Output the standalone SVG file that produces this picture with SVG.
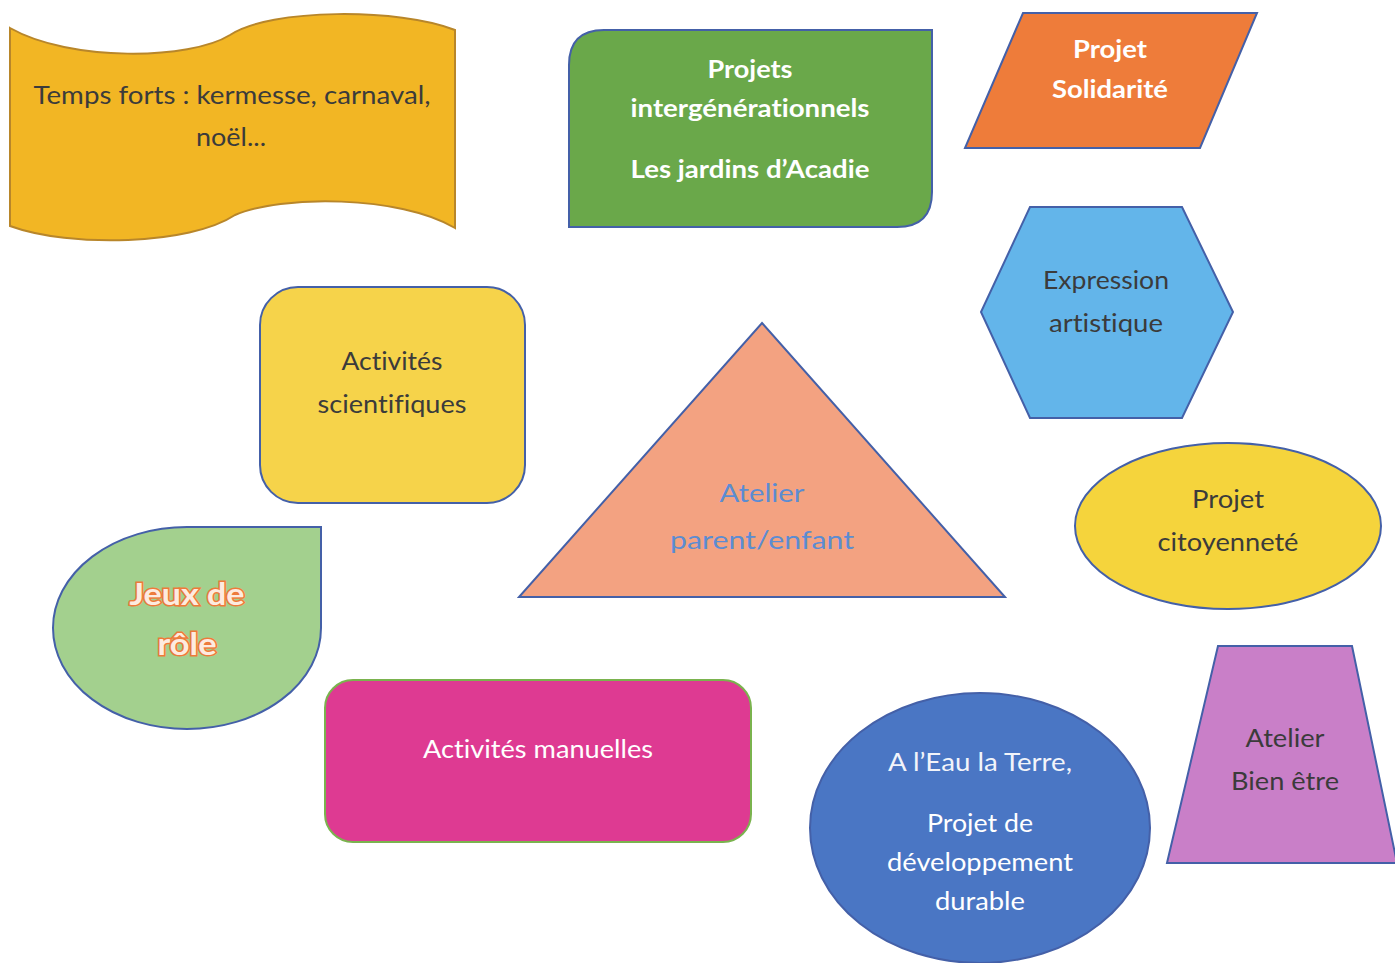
<svg xmlns="http://www.w3.org/2000/svg" width="1395" height="963" viewBox="0 0 1395 963">
<style>
text{font-family:Lato,"Open Sans","Liberation Sans",sans-serif;font-size:25px;text-anchor:middle;font-variant-ligatures:none;font-feature-settings:"liga" 0,"clig" 0}
.dk{fill:#3b3b3b}
.wh{fill:#ffffff}
.b{font-weight:bold}
.sb{stroke:#4460a8;stroke-width:2}
.jr{font-weight:bold;font-size:31px;fill:#fdebe0;stroke:#ee7a3a;stroke-width:3;paint-order:stroke}
</style>
<rect width="1395" height="963" fill="#ffffff"/>
<g id="temps-forts">
<path d="M10,28 C70,62 190,60 230,35 C270,8 400,8 455,30 L455,228 C400,195 280,195 235,215 C190,245 70,248 10,226 Z" fill="#f2b624" stroke="#b8862a" stroke-width="2"/>
<text class="dk" x="232" y="104" textLength="397" lengthAdjust="spacingAndGlyphs">Temps forts : kermesse, carnaval,</text>
<text class="dk" x="231" y="146" textLength="70" lengthAdjust="spacingAndGlyphs">noël...</text>
</g>
<g id="projets-intergenerationnels">
<path d="M604,30 L932,30 L932,192 Q932,227 897,227 L569,227 L569,65 Q569,30 604,30 Z" fill="#6aa84a" class="sb"/>
<text class="wh b" x="750" y="78" textLength="85" lengthAdjust="spacingAndGlyphs">Projets</text>
<text class="wh b" x="750" y="117" textLength="239" lengthAdjust="spacingAndGlyphs">intergénérationnels</text>
<text class="wh b" x="750" y="178" textLength="239" lengthAdjust="spacingAndGlyphs">Les jardins d’Acadie</text>
</g>
<g id="projet-solidarite">
<polygon points="1023,13 1257,13 1200,148 965,148" fill="#ee7c3a" class="sb"/>
<text class="wh b" x="1110" y="58" textLength="74" lengthAdjust="spacingAndGlyphs">Projet</text>
<text class="wh b" x="1110" y="98" textLength="116" lengthAdjust="spacingAndGlyphs">Solidarité</text>
</g>
<g id="expression-artistique">
<polygon points="1030,207 1182,207 1233,312 1182,418 1030,418 981,312" fill="#63b5ea" class="sb"/>
<text class="dk" x="1106" y="289" textLength="126" lengthAdjust="spacingAndGlyphs">Expression</text>
<text class="dk" x="1106" y="332" textLength="114" lengthAdjust="spacingAndGlyphs">artistique</text>
</g>
<g id="activites-scientifiques">
<rect x="260" y="287" width="265" height="216" rx="38" fill="#f6d34a" class="sb"/>
<text class="dk" x="392" y="370" textLength="101" lengthAdjust="spacingAndGlyphs">Activités</text>
<text class="dk" x="392" y="413" textLength="149" lengthAdjust="spacingAndGlyphs">scientifiques</text>
</g>
<g id="atelier-parent-enfant">
<polygon points="762,323 1005,597 519,597" fill="#f3a281" class="sb"/>
<text x="762" y="502" fill="#5b8cd2" textLength="85" lengthAdjust="spacingAndGlyphs">Atelier</text>
<text x="762" y="549" fill="#5b8cd2" textLength="184" lengthAdjust="spacingAndGlyphs">parent/enfant</text>
</g>
<g id="projet-citoyennete">
<ellipse cx="1228" cy="526" rx="153" ry="83" fill="#f5d43c" class="sb"/>
<text class="dk" x="1228" y="508" textLength="72" lengthAdjust="spacingAndGlyphs">Projet</text>
<text class="dk" x="1228" y="551" textLength="141" lengthAdjust="spacingAndGlyphs">citoyenneté</text>
</g>
<g id="jeux-de-role">
<path d="M187,527 L321,527 L321,628 A134,101 0 1 1 187,527 Z" fill="#a3d08e" class="sb"/>
<text class="jr" x="187" y="605" textLength="115" lengthAdjust="spacingAndGlyphs">Jeux de</text>
<text class="jr" x="187" y="655" textLength="59" lengthAdjust="spacingAndGlyphs">rôle</text>
</g>
<g id="activites-manuelles">
<rect x="325" y="680" width="426" height="162" rx="28" fill="#de3a92" stroke="#7ab34e" stroke-width="2"/>
<text class="wh" x="538" y="758" textLength="230" lengthAdjust="spacingAndGlyphs">Activités manuelles</text>
</g>
<g id="eau-terre">
<ellipse cx="980" cy="828" rx="170" ry="135" fill="#4a76c4" class="sb"/>
<text x="980" y="771" fill="#f2f4fa" textLength="184" lengthAdjust="spacingAndGlyphs">A l’Eau la Terre,</text>
<text class="wh" x="980" y="832" textLength="106" lengthAdjust="spacingAndGlyphs">Projet de</text>
<text class="wh" x="980" y="871" textLength="186" lengthAdjust="spacingAndGlyphs">développement</text>
<text class="wh" x="980" y="910" textLength="90" lengthAdjust="spacingAndGlyphs">durable</text>
</g>
<g id="atelier-bien-etre">
<polygon points="1218,646 1352,646 1397,863 1167,863" fill="#c97fc8" class="sb"/>
<text class="dk" x="1285" y="747" textLength="79" lengthAdjust="spacingAndGlyphs">Atelier</text>
<text class="dk" x="1285" y="790" textLength="108" lengthAdjust="spacingAndGlyphs">Bien être</text>
</g>
<g id="connectors"></g>
</svg>
